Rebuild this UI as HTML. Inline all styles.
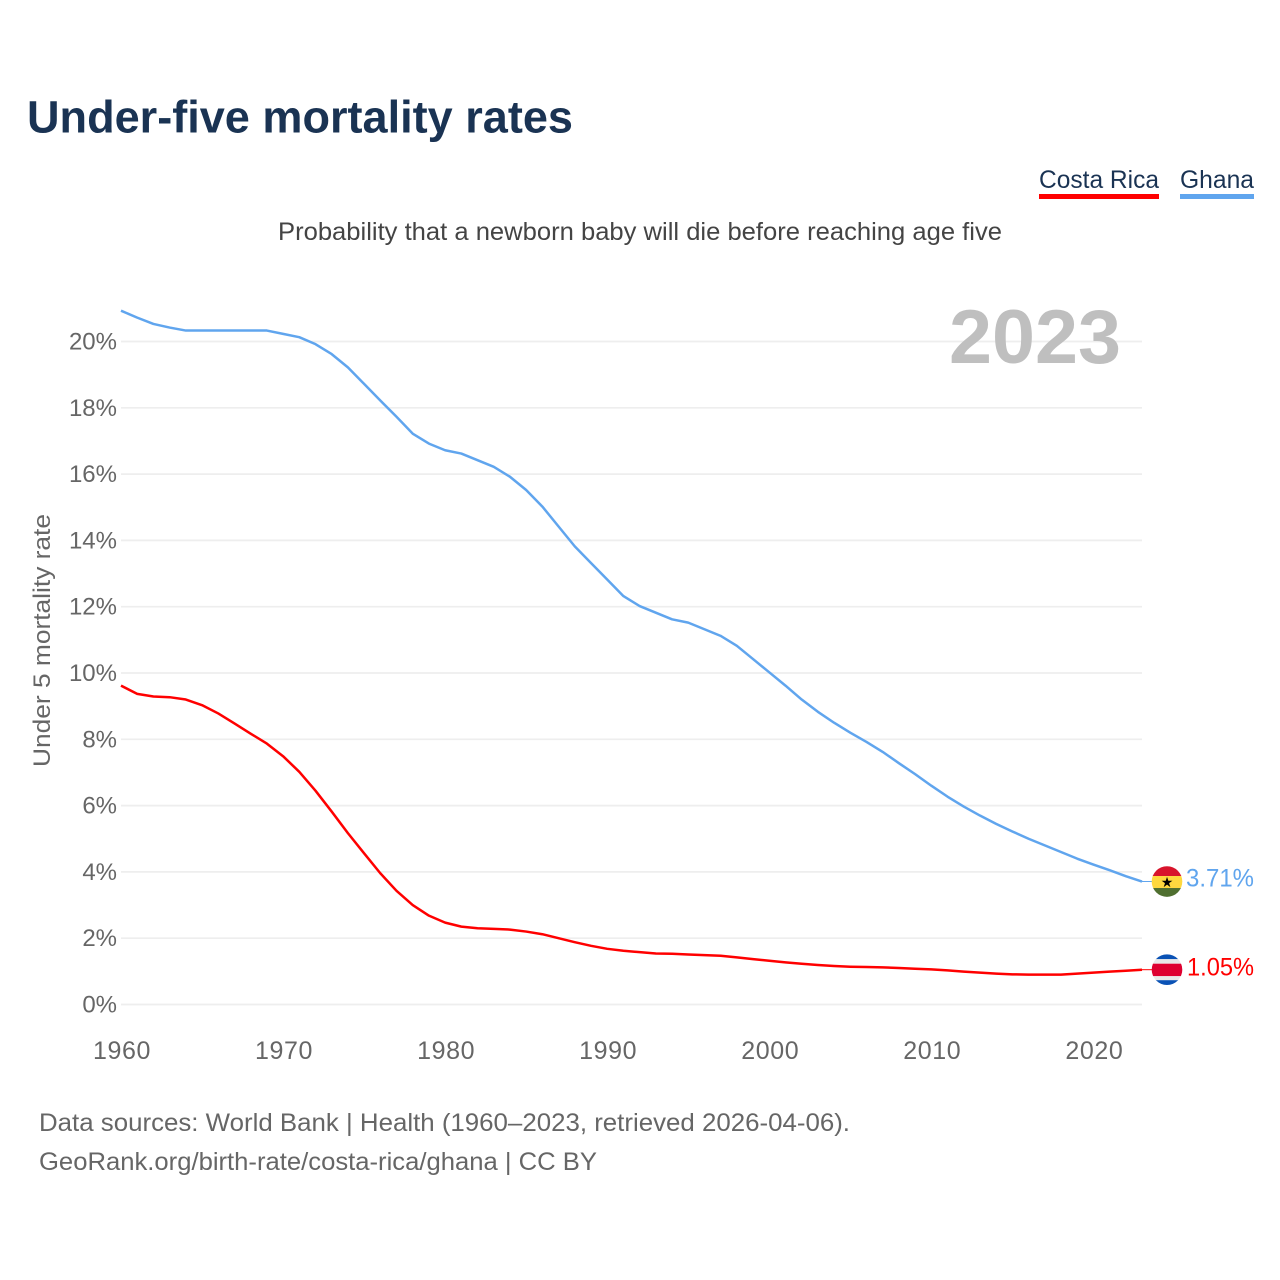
<!DOCTYPE html>
<html lang="en">
<head>
<meta charset="utf-8">
<title>Under-five mortality rates</title>
<style>
html,body{margin:0;padding:0;background:#fff;width:1280px;height:1280px;overflow:hidden}
svg{display:block;font-family:"Liberation Sans",sans-serif}
</style>
</head>
<body>
<svg id="chart" xmlns="http://www.w3.org/2000/svg" width="1280" height="1280" viewBox="0 0 1280 1280">
  <text x="27" y="132.5" font-size="45" font-weight="700" fill="#1a3353" textLength="546" lengthAdjust="spacingAndGlyphs">Under-five mortality rates</text>
  <g>
    <text x="1039" y="188" font-size="25" fill="#1a3353" textLength="120" lengthAdjust="spacingAndGlyphs">Costa Rica</text>
    <rect x="1039" y="194" width="120" height="5" fill="#ff0000"/>
  </g>
  <g>
    <text x="1180" y="188" font-size="25" fill="#1a3353" textLength="74" lengthAdjust="spacingAndGlyphs">Ghana</text>
    <rect x="1180" y="194" width="74" height="5" fill="#60a5ee"/>
  </g>
  <text x="278" y="240" font-size="25" fill="#444444" textLength="724" lengthAdjust="spacingAndGlyphs">Probability that a newborn baby will die before reaching age five</text>
  <text transform="translate(50,767) rotate(-90)" font-size="24.5" fill="#666666" textLength="253" lengthAdjust="spacingAndGlyphs">Under 5 mortality rate</text>
  <g id="grid"></g>
  <g id="yticks"></g>
  <g id="xticks"></g>
  <text x="949" y="363" font-size="76" font-weight="700" fill="#bfbfbf" textLength="172" lengthAdjust="spacingAndGlyphs">2023</text>
  <g id="series"></g>
  <g id="ends"></g>
  <text x="39" y="1131" font-size="25" fill="#666666" textLength="811" lengthAdjust="spacingAndGlyphs">Data sources: World Bank | Health (1960–2023, retrieved 2026-04-06).</text>
  <text x="39" y="1170" font-size="25" fill="#666666" textLength="558" lengthAdjust="spacingAndGlyphs">GeoRank.org/birth-rate/costa-rica/ghana | CC BY</text>
</svg>
<script>
const firstYear = 1960;
const lastYear = 2023;
const yTickValues = [0, 2, 4, 6, 8, 10, 12, 14, 16, 18, 20];
const xTickValues = [1960, 1970, 1980, 1990, 2000, 2010, 2020];
const ghanaValues = [20.93, 20.72, 20.53, 20.42, 20.33, 20.33, 20.33, 20.33, 20.33, 20.33, 20.23, 20.13, 19.92, 19.62, 19.22, 18.72, 18.22, 17.73, 17.22, 16.92, 16.72, 16.62, 16.42, 16.22, 15.92, 15.52, 15.02, 14.42, 13.82, 13.32, 12.82, 12.32, 12.02, 11.82, 11.62, 11.52, 11.32, 11.12, 10.82, 10.42, 10.02, 9.62, 9.2, 8.83, 8.5, 8.2, 7.92, 7.62, 7.28, 6.95, 6.6, 6.27, 5.97, 5.7, 5.45, 5.22, 5.0, 4.8, 4.6, 4.4, 4.22, 4.05, 3.87, 3.71];
const costaRicaValues = [9.62, 9.37, 9.29, 9.27, 9.2, 9.03, 8.78, 8.48, 8.17, 7.87, 7.49, 7.02, 6.45, 5.82, 5.17, 4.56, 3.96, 3.43, 3.0, 2.68, 2.47, 2.35, 2.3, 2.28, 2.26, 2.2, 2.12, 2.0, 1.88, 1.77, 1.68, 1.62, 1.58, 1.54, 1.53, 1.51, 1.49, 1.47, 1.42, 1.37, 1.32, 1.27, 1.23, 1.19, 1.16, 1.14, 1.13, 1.12, 1.1, 1.08, 1.06, 1.03, 0.99, 0.96, 0.93, 0.91, 0.9, 0.9, 0.9, 0.93, 0.96, 0.99, 1.02, 1.05];

const NS = 'http://www.w3.org/2000/svg';
function xScale(year) { return 121 + (year - firstYear) * (1142 - 121) / (lastYear - firstYear); }
function yScale(v) { return 1004.5 - v * (1004.5 - 341.5) / 20; }
function make(tag, attrs, parent, text) {
  const n = document.createElementNS(NS, tag);
  for (const k in attrs) n.setAttribute(k, attrs[k]);
  if (text !== undefined) n.textContent = text;
  parent.appendChild(n);
  return n;
}
const gridG = document.getElementById('grid');
const yG = document.getElementById('yticks');
const xG = document.getElementById('xticks');
const seriesG = document.getElementById('series');
const endsG = document.getElementById('ends');

yTickValues.forEach(function (v) {
  const line = make('line', { x1: 121, x2: 1142, y1: yScale(v), y2: yScale(v), stroke: '#eeeeee', 'stroke-width': 1.7 }, gridG);
  
  
  const label = make('text', { x: 117, y: yScale(v) + 8, 'text-anchor': 'end', 'font-size': 24, fill: '#666666' }, yG, v + '%');
  
  
});
xTickValues.forEach(function (year) {
  const label = make('text', { x: xScale(year) + 1, y: 1059, 'text-anchor': 'middle', 'font-size': 25, fill: '#666666', 'letter-spacing': '0.6' }, xG, String(year));
  
  
});

function linePoints(values) {
  return values.map(function (v, i) { return xScale(firstYear + i).toFixed(2) + ',' + yScale(v).toFixed(2); }).join(' ');
}
const ghanaLine = make('polyline', { points: linePoints(ghanaValues), fill: 'none', stroke: '#60a5ee', 'stroke-width': 2.5, 'stroke-linejoin': 'round' }, seriesG);


const costaLine = make('polyline', { points: linePoints(costaRicaValues), fill: 'none', stroke: '#ff0000', 'stroke-width': 2.5, 'stroke-linejoin': 'round' }, seriesG);



function addClip(id, cy) {
  const clip = make('clipPath', { id: id }, endsG);
  make('circle', { cx: 1167, cy: cy, r: 15.3 }, clip);
}
function stripe(parent, cy, top, height, color) {
  make('rect', { x: 1151, y: cy + top, width: 32, height: height, fill: color }, parent);
}

const ghanaLast = ghanaValues[ghanaValues.length - 1];
const ghanaY = yScale(ghanaLast);
const ghanaLeader = make('line', { x1: 1142, x2: 1152, y1: ghanaY, y2: ghanaY, stroke: '#60a5ee', 'stroke-width': 1 }, endsG);


addClip('clip-ghana', ghanaY);
const ghanaFlag = make('g', { 'clip-path': 'url(#clip-ghana)' }, endsG);


stripe(ghanaFlag, ghanaY, -16, 10.5, '#d8142c');
stripe(ghanaFlag, ghanaY, -5.5, 12, '#fed83f');
stripe(ghanaFlag, ghanaY, 6.5, 10, '#4f6f30');
make('text', { x: 1167, y: ghanaY + 5.5, 'text-anchor': 'middle', 'font-size': 14, fill: '#000000', 'font-family': '"DejaVu Sans",sans-serif' }, ghanaFlag, '★');
const ghanaValue = make('text', { x: 1254, y: ghanaY + 5, 'text-anchor': 'end', 'font-size': 25, fill: '#60a5ee', textLength: 68, lengthAdjust: 'spacingAndGlyphs' }, endsG, ghanaLast.toFixed(2) + '%');



const costaLast = costaRicaValues[costaRicaValues.length - 1];
const costaY = yScale(costaLast);
const costaLeader = make('line', { x1: 1142, x2: 1152, y1: costaY, y2: costaY, stroke: '#ff0000', 'stroke-width': 1 }, endsG);


addClip('clip-costa', costaY);
const costaFlag = make('g', { 'clip-path': 'url(#clip-costa)' }, endsG);


stripe(costaFlag, costaY, -16, 5.5, '#0a52b5');
stripe(costaFlag, costaY, -10.5, 4.5, '#e8e8e8');
stripe(costaFlag, costaY, -6, 12.5, '#de0030');
stripe(costaFlag, costaY, 6.5, 4, '#e8e8e8');
stripe(costaFlag, costaY, 10.5, 5.5, '#0a52b5');
const costaValue = make('text', { x: 1254, y: costaY + 6, 'text-anchor': 'end', 'font-size': 25, fill: '#ff0000', textLength: 67, lengthAdjust: 'spacingAndGlyphs' }, endsG, costaLast.toFixed(2) + '%');


</script>
</body>
</html>
